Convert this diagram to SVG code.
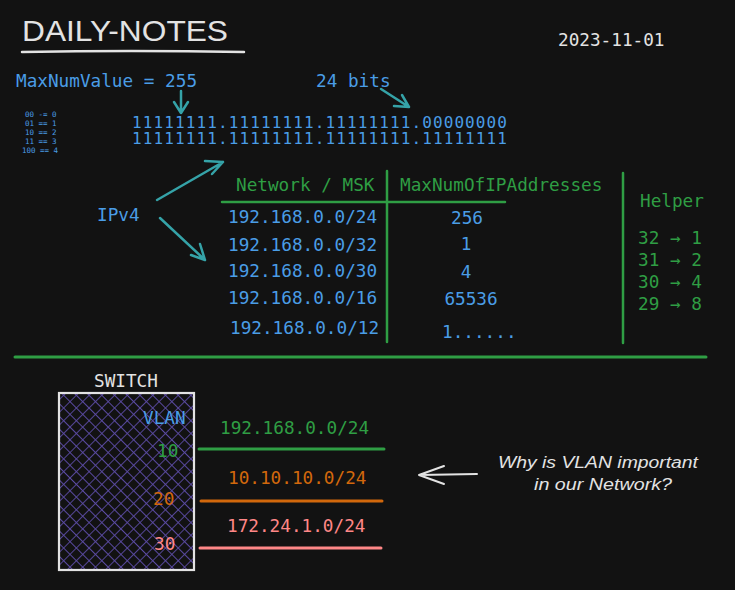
<svg xmlns="http://www.w3.org/2000/svg" width="735" height="590" viewBox="0 0 735 590">
<style>
.code{font-family:"DejaVu Sans Mono","Liberation Mono",monospace;font-size:17.7px}
.blue{fill:#4a9de6}
.green{fill:#2f9e44}
.white{fill:#e3e3e3}
.orange{fill:#d2680c}
.red{fill:#ff8787}
.hand{font-family:"Liberation Sans","DejaVu Sans",sans-serif;fill:#e3e3e3}
.teal{stroke:#35a3a8;stroke-width:2.5;fill:none;stroke-linecap:round;stroke-linejoin:round}
.gl{stroke:#2f9e44;stroke-width:2.5;fill:none;stroke-linecap:round}
</style>
<defs>
<pattern id="hatch" width="9" height="9" patternUnits="userSpaceOnUse" patternTransform="rotate(45)">
<path d="M0 0V9M0 0H9" stroke="#5a4aa2" stroke-width="1.8"/>
</pattern>
</defs>
<rect width="735" height="590" fill="#121212"/>

<g id="title">
<text x="22" y="41" class="hand" font-size="30" textLength="206" lengthAdjust="spacingAndGlyphs">DAILY-NOTES</text>
<path d="M22 52 Q130 50 244 52" stroke="#e3e3e3" stroke-width="2.5" fill="none" stroke-linecap="round"/>
</g>
<g id="date"><text x="558" y="46" class="code white">2023-11-01</text></g>

<g id="maxnum"><text x="16" y="87" class="code blue">MaxNumValue = 255</text></g>
<g id="bits24"><text x="316" y="87" class="code blue">24 bits</text></g>

<g id="legend" font-family="DejaVu Sans Mono,monospace" font-size="7.5" class="blue">
<text x="25" y="117">00 -= 0</text>
<text x="25" y="126">01 == 1</text>
<text x="25" y="135">10 == 2</text>
<text x="25" y="144">11 == 3</text>
<text x="22" y="153">100 == 4</text>
</g>

<g id="binary">
<text class="code blue" style="font-size:16px"><tspan x="132" y="128" textLength="375" lengthAdjust="spacing">11111111.11111111.11111111.00000000</tspan><tspan x="132" y="144" textLength="375" lengthAdjust="spacing">11111111.11111111.11111111.11111111</tspan></text>
</g>

<g id="ipv4"><text x="97" y="221" class="code blue">IPv4</text></g>

<g id="table" class="code">
<text x="236" y="191" class="green">Network / MSK</text>
<text x="400" y="191" class="green">MaxNumOfIPAddresses</text>
<text x="228" y="223" class="blue">192.168.0.0/24</text>
<text x="228" y="251" class="blue">192.168.0.0/32</text>
<text x="228" y="277" class="blue">192.168.0.0/30</text>
<text x="228" y="304" class="blue">192.168.0.0/16</text>
<text x="230" y="334" class="blue">192.168.0.0/12</text>
<text x="467" y="224" class="blue" text-anchor="middle">256</text>
<text x="466" y="250" class="blue" text-anchor="middle">1</text>
<text x="466" y="278" class="blue" text-anchor="middle">4</text>
<text x="471" y="305" class="blue" text-anchor="middle">65536</text>
<text x="442" y="338" class="blue">1......</text>
</g>

<g id="helper" class="code green">
<text x="640" y="207">Helper</text>
<text x="638" y="244">32 → 1</text>
<text x="638" y="266">31 → 2</text>
<text x="638" y="288">30 → 4</text>
<text x="638" y="310">29 → 8</text>
</g>

<g id="switch">
<text x="94" y="387" class="code white">SWITCH</text>
<rect x="59" y="393" width="135" height="177" fill="url(#hatch)" stroke="#e3e3e3" stroke-width="2.2"/>
<text x="143" y="424" class="code blue">VLAN</text>
<text x="157" y="457" class="code green">10</text>
<text x="153" y="505" class="code orange">20</text>
<text x="154" y="550" class="code red">30</text>
</g>

<g id="vlans" class="code">
<text x="220" y="434" class="green">192.168.0.0/24</text>
<text x="228" y="484" class="orange">10.10.10.0/24</text>
<text x="227" y="532" class="red">172.24.1.0/24</text>
</g>

<g id="question" class="hand" font-size="16" font-style="italic">
<text x="498" y="468" textLength="200" lengthAdjust="spacingAndGlyphs">Why is VLAN important</text>
<text x="534" y="490" textLength="138" lengthAdjust="spacingAndGlyphs">in our Network?</text>
</g>

<g id="connectors">
<path class="teal" d="M181 91 L181 113 M174 102 L181 113 L188 102"/>
<path class="teal" d="M381 89 L409 107 M394 106 L409 107 L402 95"/>
<path class="teal" d="M157 200 L223 162 M205 161 L223 162 L212 174"/>
<path class="teal" d="M160 218 L205 260 M191 255 L205 260 L200 244"/>
<path class="gl" d="M222 202 L505 202"/>
<path class="gl" d="M387 171 L387 342"/>
<path class="gl" d="M623 173 L623 343"/>
<path d="M15 357 L706 357" stroke="#2f9e44" stroke-width="3" stroke-linecap="round"/>
<path d="M199 449 L384 449" stroke="#2f9e44" stroke-width="3" stroke-linecap="round"/>
<path d="M201 501 L382 501" stroke="#d2680c" stroke-width="3" stroke-linecap="round"/>
<path d="M200 548 L381 548" stroke="#ff8787" stroke-width="3" stroke-linecap="round"/>
<path d="M477 474 L419 475 M444 466 L419 475 L444 484" stroke="#e3e3e3" stroke-width="2" fill="none" stroke-linecap="round" stroke-linejoin="round"/>
</g>
</svg>
